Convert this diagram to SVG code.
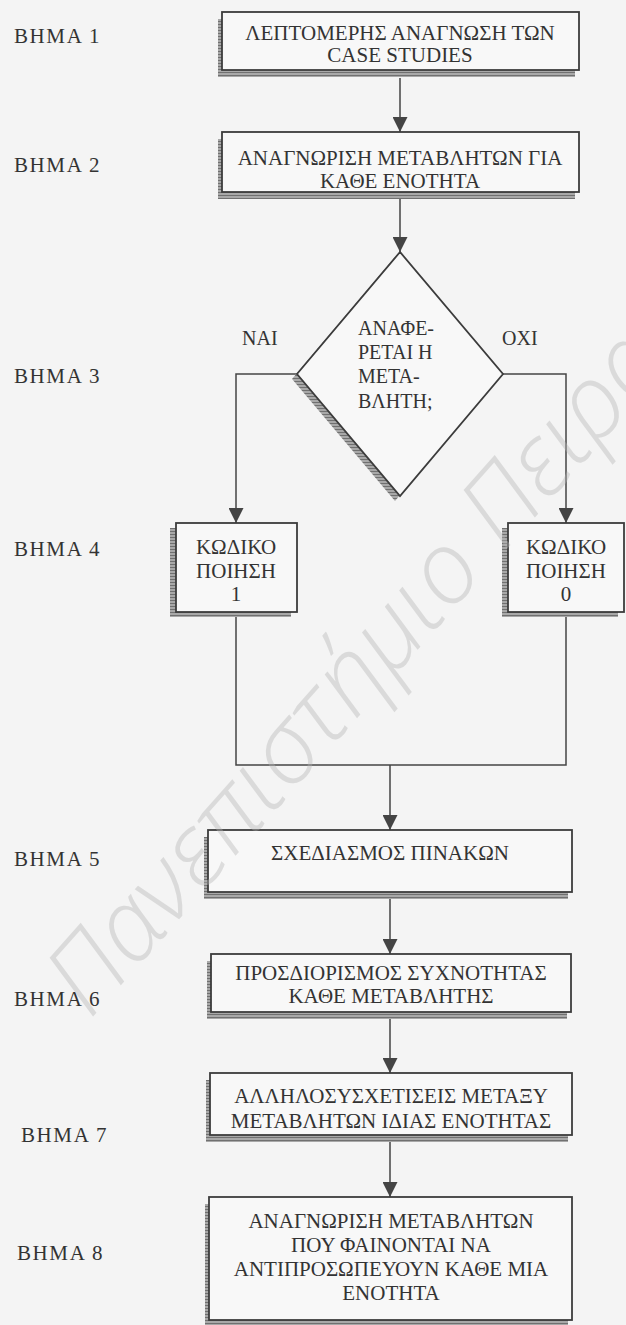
<svg xmlns="http://www.w3.org/2000/svg" width="626" height="1325" viewBox="0 0 626 1325">
<defs>
<pattern id="hatch" width="4" height="3" patternUnits="userSpaceOnUse">
<rect width="4" height="3" fill="#a8a8a8"/>
<rect width="4" height="1" fill="#707070"/>
</pattern>
<marker id="arr" markerUnits="userSpaceOnUse" markerWidth="15" markerHeight="15" refX="15" refY="7.5" orient="auto">
<path d="M0,0 L15,7.5 L0,15 z" fill="#444"/>
</marker>
</defs>
<style>
.bg{fill:#f4f4f4}
.box{fill:#f8f8f8;stroke:#3c3c3c;stroke-width:1.8}
.sh{fill:url(#hatch)}
.t{font-family:"Liberation Serif","Times New Roman",serif;font-size:21px;fill:#333}
.c{text-anchor:middle}
.lbl{font-family:"Liberation Serif","Times New Roman",serif;font-size:21px;fill:#333;letter-spacing:1.6px}
.d{font-size:20px}
.con{fill:none;stroke:#444;stroke-width:1.5}
.wm{font-family:"Open Sans","DejaVu Sans",sans-serif;font-weight:300;font-style:italic;font-size:100px;fill:#b5b5b5;opacity:0.4}
</style>
<rect class="bg" x="0" y="0" width="626" height="1325"/>

<g id="labels">
<text class="lbl" x="14" y="43">BHMA 1</text>
<text class="lbl" x="14" y="172">BHMA 2</text>
<text class="lbl" x="14" y="383">BHMA 3</text>
<text class="lbl" x="14" y="556">BHMA 4</text>
<text class="lbl" x="14" y="866">BHMA 5</text>
<text class="lbl" x="14" y="1006">BHMA 6</text>
<text class="lbl" x="21" y="1142">BHMA 7</text>
<text class="lbl" x="17" y="1260">BHMA 8</text>
</g>

<g id="connectors">
<path class="con" d="M400,78 V132" marker-end="url(#arr)"/>
<path class="con" d="M400,197 V252" marker-end="url(#arr)"/>
<path class="con" d="M297,374 H236 V523" marker-end="url(#arr)"/>
<path class="con" d="M503,374 H566 V523" marker-end="url(#arr)"/>
<path class="con" d="M236,612 V765 H566 V612"/>
<path class="con" d="M390,765 V830" marker-end="url(#arr)"/>
<path class="con" d="M390,899 V954" marker-end="url(#arr)"/>
<path class="con" d="M390,1018 V1073" marker-end="url(#arr)"/>
<path class="con" d="M390,1141 V1197" marker-end="url(#arr)"/>
</g>

<g id="step1">
<rect class="sh" x="218" y="19" width="357" height="58"/>
<rect class="box" x="222" y="12" width="357" height="58"/>
<text class="t c" x="400" y="40">ΛΕΠΤΟΜΕΡΗΣ ΑΝΑΓΝΩΣΗ ΤΩΝ</text>
<text class="t c" x="400" y="62">CASE STUDIES</text>
</g>

<g id="step2">
<rect class="sh" x="218" y="139" width="357" height="60"/>
<rect class="box" x="222" y="132" width="357" height="60"/>
<text class="t c" x="400" y="165">ΑΝΑΓΝΩΡΙΣΗ ΜΕΤΑΒΛΗΤΩΝ ΓΙΑ</text>
<text class="t c" x="400" y="188">ΚΑΘΕ ΕΝΟΤΗΤΑ</text>
</g>

<g id="step3">
<polygon class="sh" points="395,257 292,379 395,501 498,379"/>
<polygon class="box" points="400,252 297,374 400,496 503,374"/>
<text class="t d" x="358" y="335">ΑΝΑΦΕ-</text>
<text class="t d" x="358" y="359">ΡΕΤΑΙ Η</text>
<text class="t d" x="358" y="383">ΜΕΤΑ-</text>
<text class="t d" x="358" y="408">ΒΛΗΤΗ;</text>
</g>

<g id="label-yes">
<text class="t d" x="242" y="345">ΝΑΙ</text>
</g>
<g id="label-no">
<text class="t d" x="502" y="345">ΟΧΙ</text>
</g>

<g id="step4-yes">
<rect class="sh" x="170" y="528" width="121" height="89"/>
<rect class="box" x="176" y="523" width="121" height="89"/>
<text class="t c" x="236" y="554">ΚΩΔΙΚΟ</text>
<text class="t c" x="236" y="578">ΠΟΙΗΣΗ</text>
<text class="t c" x="236" y="601">1</text>
</g>

<g id="step4-no">
<rect class="sh" x="502" y="528" width="116" height="89"/>
<rect class="box" x="508" y="523" width="116" height="89"/>
<text class="t c" x="566" y="554">ΚΩΔΙΚΟ</text>
<text class="t c" x="566" y="578">ΠΟΙΗΣΗ</text>
<text class="t c" x="566" y="601">0</text>
</g>

<g id="step5">
<rect class="sh" x="204" y="837" width="364" height="62"/>
<rect class="box" x="208" y="830" width="364" height="62"/>
<text class="t c" x="390" y="860">ΣΧΕΔΙΑΣΜΟΣ ΠΙΝΑΚΩΝ</text>
</g>

<g id="step6">
<rect class="sh" x="207" y="961" width="360" height="58"/>
<rect class="box" x="211" y="954" width="360" height="58"/>
<text class="t c" x="391" y="980">ΠΡΟΣΔΙΟΡΙΣΜΟΣ ΣΥΧΝΟΤΗΤΑΣ</text>
<text class="t c" x="391" y="1003">ΚΑΘΕ ΜΕΤΑΒΛΗΤΗΣ</text>
</g>

<g id="step7">
<rect class="sh" x="206" y="1080" width="362" height="62"/>
<rect class="box" x="210" y="1073" width="362" height="62"/>
<text class="t c" x="391" y="1103">ΑΛΛΗΛΟΣΥΣΧΕΤΙΣΕΙΣ ΜΕΤΑΞΥ</text>
<text class="t c" x="391" y="1128">ΜΕΤΑΒΛΗΤΩΝ ΙΔΙΑΣ ΕΝΟΤΗΤΑΣ</text>
</g>

<g id="step8">
<rect class="sh" x="205" y="1204" width="363" height="123"/>
<rect class="box" x="209" y="1197" width="363" height="123"/>
<text class="t c" x="391" y="1228">ΑΝΑΓΝΩΡΙΣΗ ΜΕΤΑΒΛΗΤΩΝ</text>
<text class="t c" x="391" y="1252">ΠΟΥ ΦΑΙΝΟΝΤΑΙ ΝΑ</text>
<text class="t c" x="391" y="1276">ΑΝΤΙΠΡΟΣΩΠΕΥΟΥΝ ΚΑΘΕ ΜΙΑ</text>
<text class="t c" x="391" y="1300">ΕΝΟΤΗΤΑ</text>
</g>

<g id="watermark">
<text class="wm" transform="translate(90,1020) rotate(-48.5)">Πανεπιστήμιο Πειραιώς</text>
</g>
</svg>
